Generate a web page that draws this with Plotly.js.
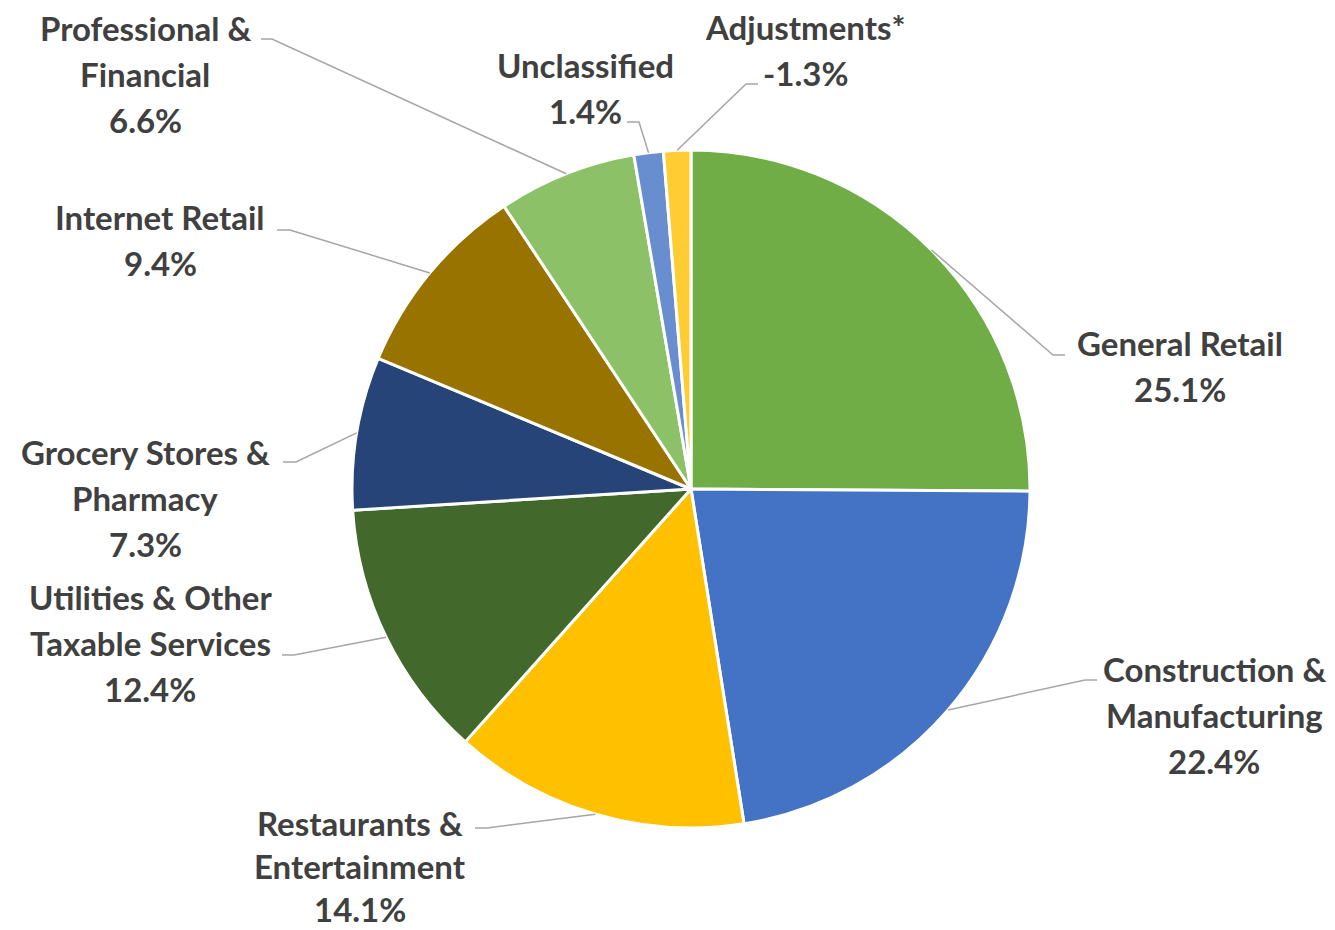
<!DOCTYPE html>
<html>
<head>
<meta charset="utf-8">
<script src="https://cdn.plot.ly/plotly-3.0.1.min.js"></script>
<style>html,body{margin:0;padding:0;background:#fff;} #chart{width:1335px;height:930px;}</style>
</head>
<body>
<div id="chart"></div>
<script>
// Data
const categories = ["General Retail","Construction & Manufacturing","Restaurants & Entertainment","Utilities & Other Taxable Services","Grocery Stores & Pharmacy","Internet Retail","Professional & Financial","Unclassified","Adjustments*"];
const shares = [25.1, 22.4, 14.1, 12.4, 7.3, 9.4, 6.6, 1.4, -1.3];
const labelLines = [
  ["General Retail"],
  ["Construction &","Manufacturing"],
  ["Restaurants &","Entertainment"],
  ["Utilities & Other","Taxable Services"],
  ["Grocery Stores &","Pharmacy"],
  ["Internet Retail"],
  ["Professional &","Financial"],
  ["Unclassified"],
  ["Adjustments*"]
];
const colors = ["#70AD47","#4472C4","#FFC000","#43682B","#264478","#997300","#8CC168","#698ED0","#FFCD33"];

// Layout (pixels)
const W = 1335, H = 930;
const CX = 691, CY = 489, R = 339;
const labelPos = [ // center x, first line center y
  [1180, 343],[1214, 669],[360, 823],[150, 597],[145, 452],[160, 217],[145, 28],[585, 65],[805, 27]
];
const spacing = [46, 46, 43, 46, 46, 46, 46, 46, 46];
const elbows = [ // elbow point, end point
  [[1053,355],[1065,355]],
  [[1085,680],[1097,680]],
  [[487,828],[475,828]],
  [[294,655],[282,655]],
  [[296,462],[283,462]],
  [[290,230],[277,230]],
  [[272,39],[261,39]],
  [[639,122],[627,122]],
  [[746,84],[758,84]]
];

const px = x => x / W;
const py = y => 1 - y / H;

const sizes = shares.map(v => Math.abs(v));
const total = sizes.reduce((a,b)=>a+b,0);

const annotations = [];
const shapes = [];
let cum = 0;
sizes.forEach((v,i) => {
  const mid = (cum + v/2) / total * 2 * Math.PI;
  cum += v;
  const sx = CX + R * Math.sin(mid), sy = CY - R * Math.cos(mid);
  const [e, f] = elbows[i];
  shapes.push({type:'path', xref:'paper', yref:'paper',
    path:`M ${px(sx)} ${py(sy)} L ${px(e[0])} ${py(e[1])} L ${px(f[0])} ${py(f[1])}`,
    line:{color:'#A6A6A6', width:1.5}});
  const lines = labelLines[i].concat([(shares[i]).toFixed(1) + '%']);
  lines.forEach((t,j) => {
    annotations.push({xref:'paper', yref:'paper', x:px(labelPos[i][0]), y:py(labelPos[i][1] + j*spacing[i]),
      text:t, showarrow:false, xanchor:'center', yanchor:'middle',
      font:{family:'Lato, sans-serif', size:33, color:'#404040', weight:700}});
  });
});

const data = [{
  type:'pie', values:sizes, labels:categories, sort:false, direction:'clockwise', rotation:0,
  marker:{colors:colors, line:{color:'#FFFFFF', width:3}},
  textinfo:'none', hoverinfo:'label+percent', showlegend:false,
  domain:{x:[px(CX-R), px(CX+R)], y:[py(CY+R), py(CY-R)]}
}];

const layout = {
  width:W, height:H, margin:{l:0,r:0,t:0,b:0}, paper_bgcolor:'#FFFFFF',
  showlegend:false, annotations:annotations, shapes:shapes
};
Plotly.newPlot('chart', data, layout, {displayModeBar:false, staticPlot:true});
</script>
</body>
</html>
